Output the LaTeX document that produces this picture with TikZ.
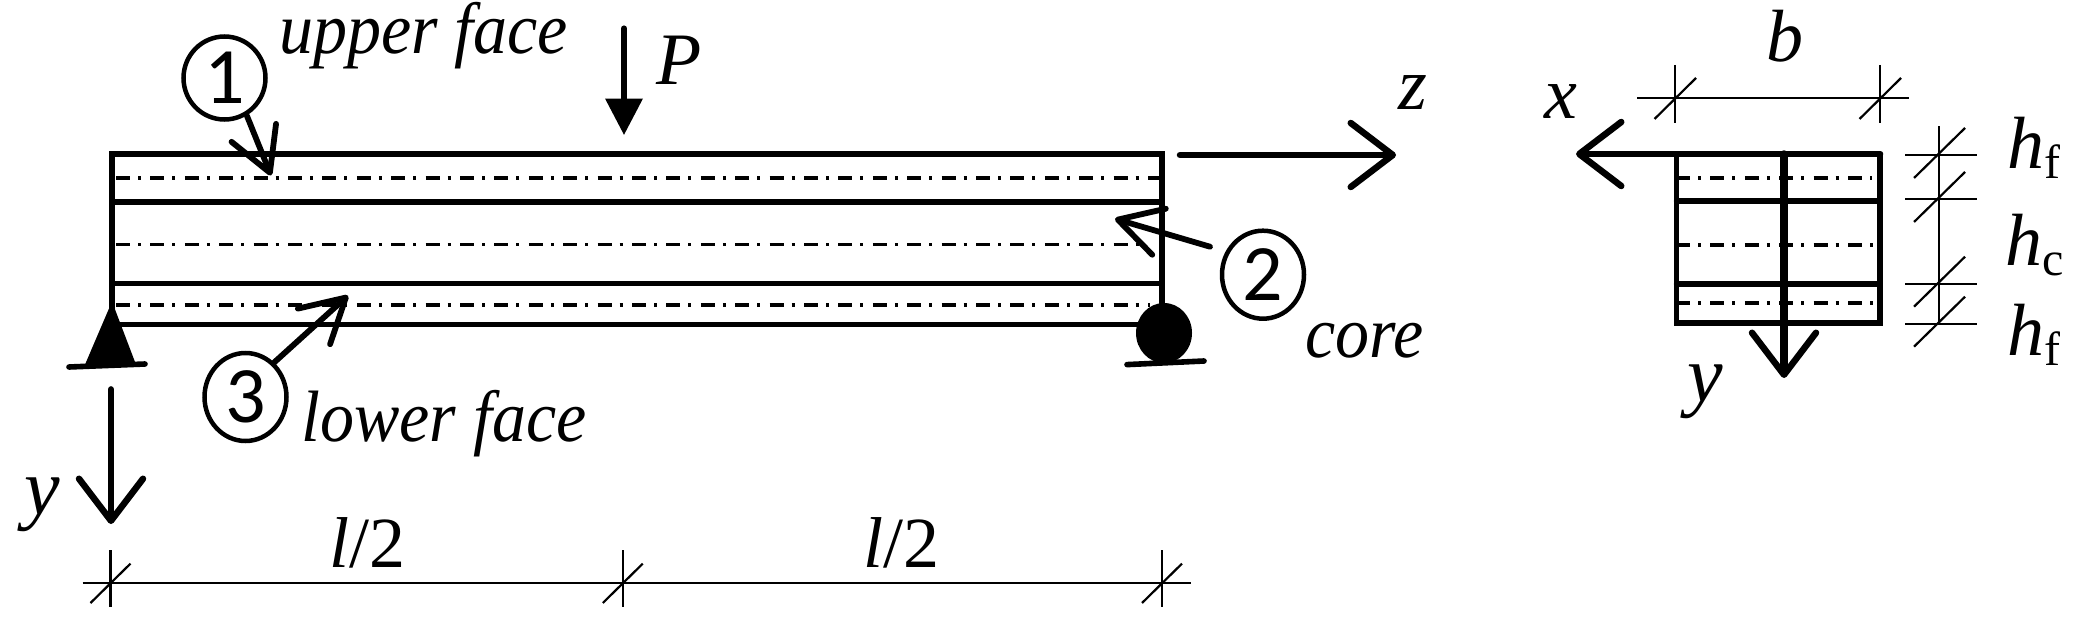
\documentclass[tikz,border=0pt]{standalone}
\usepackage{fontspec}
\setmainfont{Liberation Serif}
\newfontfamily\numfont{Carlito}
\usetikzlibrary{arrows.meta,shapes.geometric}
\newcommand{\fs}[1]{\fontsize{#1}{#1}\selectfont}
\newcommand{\tall}[1]{\scalebox{1}[1.07]{#1}}
\tikzset{
  x=1pt,y=-1pt,
  beam/.style={line width=5.6pt,line cap=round},
  axisline/.style={line width=3.8pt,dash pattern=on 14pt off 8pt on 3pt off 9.4pt},
  thin dim/.style={line width=2.2pt},
  barb/.style={-{Straight Barb[length=42pt,width=64pt,line width=6.5pt,round]},line width=6.5pt,line cap=round},
  smallbarb/.style={-{Straight Barb[length=43pt,width=48pt,line width=5.8pt,round]},line width=5.8pt,line cap=round},
  numc/.style={draw,ellipse,line width=4.5pt,inner sep=0pt,minimum width=82pt,minimum height=88pt,font=\numfont\fs{80}},
  lab/.style={inner sep=0pt,anchor=base west,font=\itshape\fs{68}},
  sym/.style={inner sep=0pt,anchor=base west,font=\itshape\fs{74}},
  ell/.style={inner sep=0pt,anchor=base west,font=\fs{72}},
}
\newcommand{\subf}[1]{\raisebox{-10pt}{\upshape\fs{48}#1}}
\begin{document}
\begin{tikzpicture}
\useasboundingbox[fill=white] (0,0) rectangle (2083,618);

% --- beam (elevation) ---
\draw[axisline] (116,178) -- (1160,178);
\draw[axisline] (116,244.4) -- (1140,244.4);
\draw[axisline] (116,304.7) -- (1150,304.7);
\draw[beam] (112,320) -- (112,153.7) -- (1162,153.7) -- (1162,320);
\draw[beam] (112,201.8) -- (1162,201.8);
\draw[beam] (112,283.4) -- (1162,283.4);
\draw[beam] (112,324.4) -- (1162,324.4);

% supports
\fill (112,301.5) -- (136,364.6) -- (85,364.6) -- cycle;
\draw[beam] (69,367) -- (145,364);
\fill (1164,333) ellipse [x radius=28,y radius=30];
\draw[beam] (1127,364.6) -- (1204,361);

% --- numbered callouts ---
\node[numc,minimum height=83pt] (c1) at (224.5,78) {1};
\node[numc] (c2) at (1263,274.7) {2};
\node[numc] (c3) at (245.5,397) {3};
\coordinate (s1) at (247,116);
\coordinate (t1) at (271,175.4);
\coordinate (s2) at (1210,246.7);
\coordinate (t2) at (1115,218.8);
\coordinate (s3) at (274,362.6);
\coordinate (t3) at (348,295.6);
\draw[smallbarb] (s1) -- (t1);
\draw[smallbarb] (s2) -- (t2);
\draw[smallbarb] (s3) -- (t3);

% --- labels ---
\node[lab] (upper) at (279,54) {\tall{upper face}};
\node[lab] (lower) at (301,441) {\tall{lower face}};
\node[lab] (core) at (1305,357) {\tall{core}};
\node[sym] (P) at (656,84.7) {P};
\node[sym] (z) at (1398,110) {z};
\node[sym,font=\itshape\fs{80}] (yL) at (24,514) {y};
\node[ell] (l1) at (329,567.6) {\textit{l}/2};
\node[ell] (l2) at (863,567.6) {\textit{l}/2};

% --- load and axes ---
\coordinate (Ps) at (624,28.4);
\coordinate (Pm) at (624,100);
\coordinate (Pt) at (624,134.8);
\draw[line width=6pt,line cap=round] (Ps) -- (Pm);
\fill (605,98.5) -- (643,98.5) -- (Pt) -- cycle;
\coordinate (zs) at (1180,155);
\coordinate (zt) at (1396,155);
\draw[barb] (zs) -- (zt);
\coordinate (ys) at (111,389.4);
\coordinate (yt) at (111,524);
\draw[barb] (ys) -- (yt);

% --- length dimension ---
\draw[thin dim] (82.6,582.6) -- (1191,582.6);
\foreach \x in {110.5,622.8,1162}{
  \draw[thin dim] (\x,550) -- (\x,607);
  \draw[thin dim] (\x-20,603) -- (\x+20,563.6);
}

% --- cross-section ---
\draw[axisline] (1676,178) -- (1872,178);
\draw[axisline] (1676,245) -- (1876,245);
\draw[axisline] (1676,303) -- (1876,303);
\draw[beam] (1676.6,154) -- (1676.6,323) -- (1880,323) -- (1880,154);
\draw[beam] (1676.6,201) -- (1880,201);
\draw[beam] (1676.6,284) -- (1880,284);
\coordinate (xs) at (1880,154);
\coordinate (xt) at (1576,154);
\draw[barb] (xs) -- (xt);
\coordinate (y2s) at (1784,154);
\coordinate (y2t) at (1784,378);
\draw[barb,line width=7.5pt] (y2s) -- (y2t);

% section dimensions
\draw[thin dim] (1637,98.3) -- (1909,98.3);
\foreach \x in {1675,1880}{
  \draw[thin dim] (\x,65) -- (\x,122.7);
  \draw[thin dim] (\x-20.5,119) -- (\x+21,78);
}
\draw[thin dim] (1939,126) -- (1939,323);
\foreach \y in {155,199,283.7,323.7}{
  \draw[thin dim] (1905,\y) -- (1977,\y);
  \draw[thin dim] (1914,\y+23) -- (1965,\y-27);
}

\node[sym] (b) at (1766,61.7) {b};
\node[sym] (x) at (1544,118) {x};
\node[sym,font=\itshape\fs{80}] (y2) at (1687,401) {y};
\node[sym] (hf1) at (2007,168) {h\subf{f}};
\node[sym] (hc) at (2005,265) {h\subf{c}};
\node[sym] (hf2) at (2007,355) {h\subf{f}};
\end{tikzpicture}
\end{document}
